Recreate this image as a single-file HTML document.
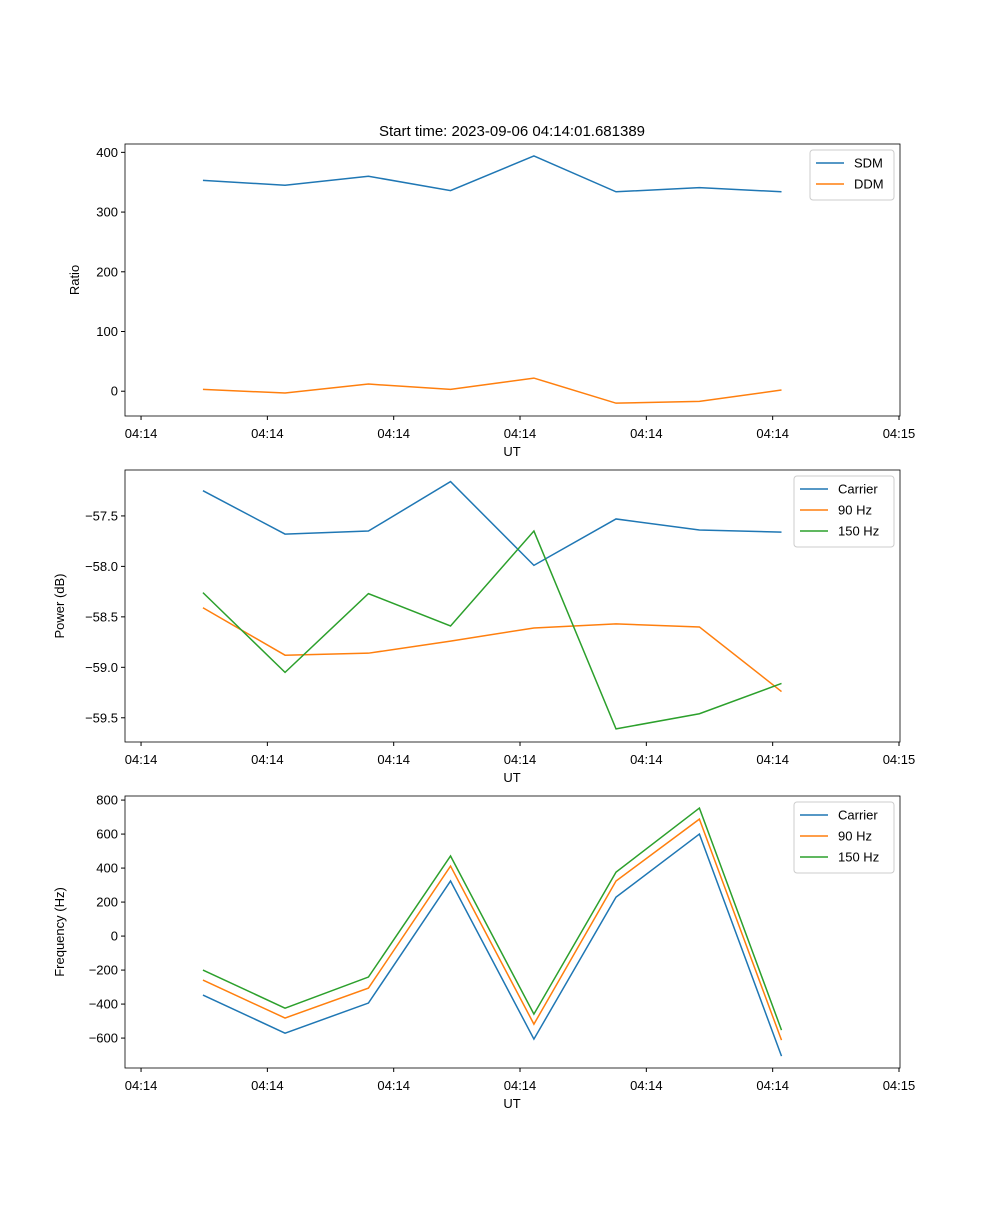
<!DOCTYPE html>
<html><head><meta charset="utf-8"><style>
body{margin:0;background:#fff}
svg text{font-family:"Liberation Sans","DejaVu Sans",sans-serif;font-size:13px;fill:#000}
</style></head><body>
<svg id="fig" width="1000" height="1200" xmlns="http://www.w3.org/2000/svg">
<rect width="1000" height="1200" fill="#fff"/>
<text x="512" y="136" text-anchor="middle" style="font-size:15px">Start time: 2023-09-06 04:14:01.681389</text>
</svg>
<script>
const times=[4.9,11.4,18.0,24.5,31.1,37.6,44.2,50.7];
const xTicks=[0,10,20,30,40,50,60];
const xTickLabels=["04:14","04:14","04:14","04:14","04:14","04:14","04:15"];
const sdm=[353,345,360,336,394,334,341,334];
const ddm=[3,-3,12,3,22,-20,-17,2];
const pCarrier=[-57.25,-57.68,-57.65,-57.16,-57.99,-57.53,-57.64,-57.66];
const p90=[-58.41,-58.88,-58.86,-58.74,-58.61,-58.57,-58.60,-59.24];
const p150=[-58.26,-59.05,-58.27,-58.59,-57.65,-59.61,-59.46,-59.16];
const fCarrier=[-347,-571,-394,324,-606,229,600,-706];
const f90=[-259,-482,-306,412,-518,324,688,-612];
const f150=[-200,-424,-241,471,-459,376,753,-553];
const ratioTicks=[0,100,200,300,400];
const powerTicks=[-57.5,-58.0,-58.5,-59.0,-59.5];
const freqTicks=[-600,-400,-200,0,200,400,600,800];
const NS="http://www.w3.org/2000/svg";
const svg=document.getElementById('fig');
function mk(t,a,p){const e=document.createElementNS(NS,t);for(const k in a)e.setAttribute(k,a[k]);(p||svg).appendChild(e);return e;}
const X0=125,X1=900,T0=-1.27,T1=60.08;
const xs=t=>X0+(t-T0)/(T1-T0)*(X1-X0);
function panel(name,top,bottom,ymin,ymax,yTicks,fmt,ylabel,series,legW){
  const g=mk('g',{});
  
  
  const ys=v=>bottom-(v-ymin)/(ymax-ymin)*(bottom-top);
  xTicks.forEach((t,i)=>{const x=xs(t);
    mk('line',{x1:x,x2:x,y1:bottom,y2:bottom+4,stroke:'#000'},g);
    const tx=mk('text',{x:x,y:bottom+22,'text-anchor':'middle'},g);tx.textContent=xTickLabels[i];
    
    });
  yTicks.forEach(v=>{const y=ys(v);
    mk('line',{x1:X0-4,x2:X0,y1:y,y2:y,stroke:'#000'},g);
    const tx=mk('text',{x:X0-7,y:y+4.5,'text-anchor':'end'},g);tx.textContent=fmt(v);
    
    });
  const xl=mk('text',{x:512,y:bottom+40,'text-anchor':'middle'},g);xl.textContent='UT';
  
  
  const cy=(top+bottom)/2;
  const yl=mk('text',{x:0,y:0,'text-anchor':'middle',transform:`translate(${name==='ratio'?79:64},${cy}) rotate(-90)`},g);yl.textContent=ylabel;
  
  
  series.forEach(s=>{const pl=mk('polyline',{points:s.v.map((v,i)=>xs(times[i])+','+ys(v)).join(' '),fill:'none',stroke:s.c,'stroke-width':1.5},g);
    
    });
  mk('rect',{x:X0,y:top,width:X1-X0,height:bottom-top,fill:'none',stroke:'#000','stroke-width':0.8},g);
  const lg=mk('g',{},g);
  
  
  const lx=X1-6-legW;
  mk('rect',{x:lx,y:top+6,width:legW,height:8+series.length*21,fill:'#fff',stroke:'#ccc',rx:3},lg);
  series.forEach((s,i)=>{const y=top+19+i*21;
    mk('line',{x1:lx+6,x2:lx+34,y1:y,y2:y,stroke:s.c,'stroke-width':1.5},lg);
    const t=mk('text',{x:lx+44,y:y+4.5},lg);t.textContent=s.n;
    
    });
}
panel('ratio',144,416,-41.5,414,ratioTicks,v=>v.toString(),'Ratio',
  [{n:'SDM',v:sdm,c:'#1f77b4'},{n:'DDM',v:ddm,c:'#ff7f0e'}],84);
panel('power',470,742,-59.74,-57.045,powerTicks,v=>'\u2212'.repeat(v<0?1:0)+Math.abs(v).toFixed(1),'Power (dB)',
  [{n:'Carrier',v:pCarrier,c:'#1f77b4'},{n:'90 Hz',v:p90,c:'#ff7f0e'},{n:'150 Hz',v:p150,c:'#2ca02c'}],100);
panel('frequency',796,1068,-776,824,freqTicks,v=>(v<0?'\u2212':'')+Math.abs(v),'Frequency (Hz)',
  [{n:'Carrier',v:fCarrier,c:'#1f77b4'},{n:'90 Hz',v:f90,c:'#ff7f0e'},{n:'150 Hz',v:f150,c:'#2ca02c'}],100);
</script>
</body></html>
